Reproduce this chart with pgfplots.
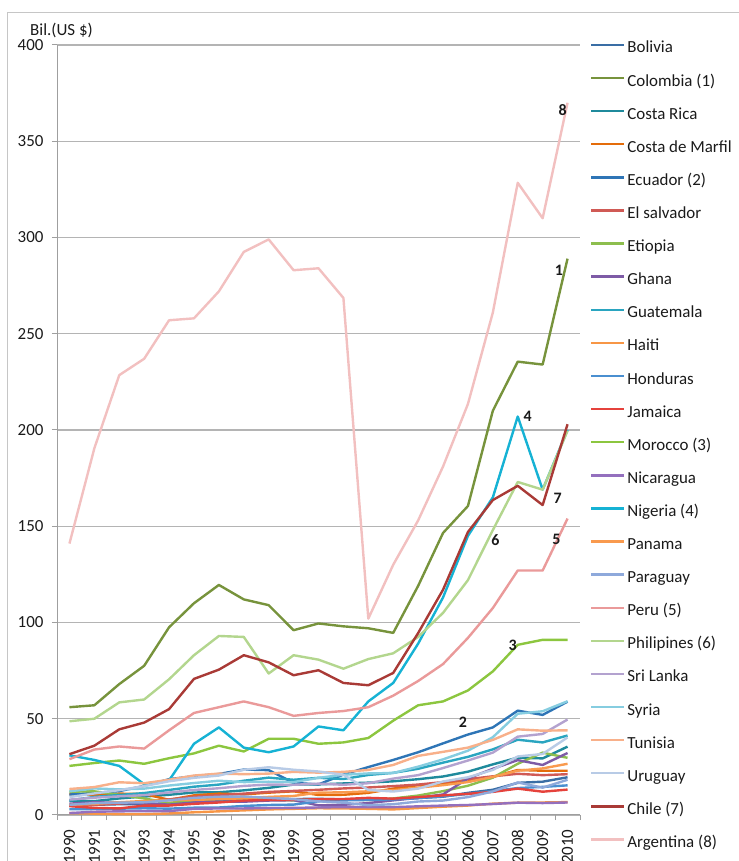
\documentclass[border=0pt]{standalone}
\usepackage{pgfplots}
\usepackage{pgfplotstable}
\pgfplotsset{compat=1.18}
\usepackage{fontspec}
\setmainfont{Carlito}

\definecolor{cBol}{HTML}{3A6EA5}
\definecolor{cCol}{HTML}{77933C}
\definecolor{cCR}{HTML}{1F8A9C}
\definecolor{cCdM}{HTML}{E46C0A}
\definecolor{cEcu}{HTML}{2E75B6}
\definecolor{cElS}{HTML}{D05A55}
\definecolor{cEti}{HTML}{8DBE4E}
\definecolor{cGha}{HTML}{7E5BA6}
\definecolor{cGua}{HTML}{2AA5C0}
\definecolor{cHai}{HTML}{F79646}
\definecolor{cHon}{HTML}{4A8FD0}
\definecolor{cJam}{HTML}{E5423C}
\definecolor{cMor}{HTML}{8CC63F}
\definecolor{cNic}{HTML}{9470BE}
\definecolor{cNig}{HTML}{16B2D4}
\definecolor{cPan}{HTML}{F99A4E}
\definecolor{cPar}{HTML}{8EA9DB}
\definecolor{cPer}{HTML}{EA9A9A}
\definecolor{cPhi}{HTML}{B3D68E}
\definecolor{cSri}{HTML}{B3A2CF}
\definecolor{cSyr}{HTML}{86CDE0}
\definecolor{cTun}{HTML}{F8B08A}
\definecolor{cUru}{HTML}{B8CBE6}
\definecolor{cChi}{HTML}{A93A36}
\definecolor{cArg}{HTML}{F2C0C0}
\definecolor{gridc}{HTML}{B4B4B4}
\definecolor{txt}{HTML}{1A1A1A}

\pgfplotstableread{
year Bol Col CR CdM Ecu ElS Eti Gha Gua Hai Hon Jam Mor Nic Nig Pan Par Per Phi Sri Syr Tun Uru Chi Arg
1990 4.9 56 7.4 10.8 10.6 4.8 12.1 5.9 7.6 1.0 3.0 4.6 25.5 1.0 31 5.3 5.3 29 48.7 8.0 12.3 13.5 9.3 31.6 141
1991 5.3 57 7.2 10.5 11.5 5.3 12.3 6.6 9.4 0.7 3.1 3.7 27 1.7 28.6 5.8 6.2 34 50 9.0 13.8 14.5 11.2 36 190.5
1992 5.6 68 8.6 11.1 12.4 5.9 10.5 6.4 10.4 0.4 3.3 3.4 28.3 1.9 25.5 6.6 6.4 35.6 58.5 9.7 13.3 17.0 12.9 44.5 228.5
1993 5.7 77.5 9.6 10.9 15.1 6.9 8.6 6.0 11.4 0.4 3.5 4.9 26.6 2.0 16 7.3 6.6 34.5 60 10.3 13.7 16.5 15.0 48 237
1994 6.0 97.5 10.5 7.9 18.6 8.1 6.3 5.4 13.0 0.8 3.3 4.9 29.5 2.0 18 7.7 7.6 44 70.5 11.7 15.3 18.3 17.5 55 257
1995 6.7 110 11.7 10.2 20.2 9.5 7.6 6.5 14.7 1.4 3.8 5.8 32 3.2 37 7.9 8.9 53 83 13.0 16.6 20.5 19.3 70.7 258
1996 7.4 119.5 11.8 11.1 21.3 10.3 8.6 6.9 15.8 1.9 3.9 6.5 36 3.4 45.5 8.2 9.5 56 93 13.9 17.8 21.5 20.5 75.5 272
1997 7.9 112 12.8 10.7 23.6 11.1 8.6 6.9 17.8 2.4 4.7 7.5 33 3.4 35 8.7 9.6 59 92.5 15.1 17.1 21.2 23.5 83 292.5
1998 8.5 109 14.1 11.6 23.3 12.0 7.9 7.5 19.4 2.9 5.2 7.8 39.6 3.6 32.6 9.4 8.9 56 73.5 15.8 17.3 21.5 24.8 79.3 299
1999 8.3 96 15.8 12.3 16.7 12.5 7.6 7.7 18.3 3.2 5.4 7.9 39.6 3.7 35.6 9.9 8.2 51.5 83 15.7 17.1 22.4 23.5 72.6 283
2000 8.4 99.5 15.9 10.4 15.9 13.1 8.2 5.0 19.3 3.5 7.1 8.2 37 3.9 46 11.6 7.1 53 80.7 16.3 19.3 22 22.6 75.2 284
2001 8.1 98 16.4 10.5 21.0 13.8 8.2 5.3 18.7 3.4 7.6 8.3 37.7 4.1 44 11.8 6.4 54 76 15.7 20.9 22.4 20.9 68.6 268.6
2002 7.9 97 16.8 11.5 24.9 14.3 7.8 6.2 20.8 3.2 7.8 8.9 40 4.0 59 12.3 5.1 56 81 16.5 21.6 23.4 13.0 67.4 102
2003 8.1 94.6 17.5 13.7 28.6 15.0 8.6 7.6 21.9 2.9 8.1 8.5 49 4.1 68.6 12.9 5.6 62 84 18.9 21.8 26 12.2 73.8 130
2004 8.8 119 18.6 15.5 32.6 15.8 10.1 8.9 24.0 3.6 8.8 9.3 57 4.5 89 14.2 7.0 69.6 92.5 20.7 25.1 30.7 13.7 94.5 153
2005 9.5 146.5 20.0 16.4 37.2 17.1 12.4 10.7 27.2 4.3 9.7 10.2 59 4.9 113 15.5 7.5 78.4 105 24.4 28.9 32.8 17.4 117 181
2006 11.5 160.5 22.5 17.4 41.8 18.6 15.2 19.0 30.2 4.9 10.9 11.0 64.7 5.2 145 17.1 9.3 92 122 28.3 33.4 35 19.6 147 213.5
2007 13.1 210 26.3 19.8 45.5 20.1 19.4 24.0 34.1 5.9 12.4 12.0 74.6 5.7 165 19.8 12.2 107.5 148 32.4 40.4 39 23.4 163.6 261
2008 16.7 235.5 29.8 23.4 54.2 21.4 26.6 28.5 39.1 6.4 14.0 13.7 88.4 6.4 207 23.0 16.9 127 173 40.7 52.6 44.5 30.4 171 328.4
2009 17.3 234 29.4 23.0 52.0 20.7 32.4 26.0 37.7 6.5 14.6 12.1 91 6.2 169 24.2 14.2 127 169 42.1 53.9 43.8 31.7 161 310
2010 19.6 289 35.5 23.0 58.9 21.2 29.7 32.2 41.3 6.7 15.4 13.2 91 6.5 200 26.6 18.3 154 199.6 49.6 59.1 44 40.3 203 370
}\gdp

\begin{document}
\begin{tikzpicture}[x=1bp,y=1bp]
\path[use as bounding box] (0,0) rectangle (739,861);
\draw[gray!45, line width=0.8bp] (7,-10) rectangle (760,849);
\begin{axis}[
  at={(57bp,46bp)}, anchor=south west,
  scale only axis, width=523bp, height=770bp,
  xmin=1989.5, xmax=2010.5, ymin=0, ymax=400,
  axis x line*=bottom, axis y line*=left,
  axis line style={draw=gray!75, line width=1bp},
  xtick={1990,1991,...,2010},
  minor xtick={1989.5,1990.5,...,2010.5},
  major x tick style={draw=none},
  ytick={0,50,...,400},
  tick align=outside,
  major tick length=5bp, minor tick length=5bp,
  tick style={draw=gray!75, line width=1bp},
  ymajorgrids, major grid style={draw=gridc, line width=1.2bp},
  /pgf/number format/1000 sep={},
  /pgf/number format/assume math mode=true,
  ticklabel style={font=\fontsize{17}{20}\selectfont, text=txt},
  xticklabel style={rotate=90, anchor=east},
  xticklabel shift=6bp,
  yticklabel shift=5bp,
  legend style={at={(1,1)}, anchor=north west, xshift=10bp, yshift=4bp,
    draw=none, fill=none, inner sep=0pt, outer sep=0pt, row sep=17.1bp,
    font=\fontsize{17}{20}\selectfont, text=txt,
    nodes={text height=12bp, text depth=4bp, inner ysep=0pt}},
  legend cell align=left,
  legend image code/.code={\draw[#1, line width=2.4bp] (0bp,4bp) -- (33bp,4bp);},
  every axis plot/.append style={line width=2.4bp, line join=round},
  clip=false,
]
\addplot[cBol] table[x=year,y=Bol]{\gdp}; \addlegendentry{Bolivia}
\addplot[cCol] table[x=year,y=Col]{\gdp}; \addlegendentry{Colombia (1)}
\addplot[cCR] table[x=year,y=CR]{\gdp}; \addlegendentry{Costa Rica}
\addplot[cCdM] table[x=year,y=CdM]{\gdp}; \addlegendentry{Costa de Marfil}
\addplot[cEcu] table[x=year,y=Ecu]{\gdp}; \addlegendentry{Ecuador (2)}
\addplot[cElS] table[x=year,y=ElS]{\gdp}; \addlegendentry{El salvador}
\addplot[cEti] table[x=year,y=Eti]{\gdp}; \addlegendentry{Etiopia}
\addplot[cGha] table[x=year,y=Gha]{\gdp}; \addlegendentry{Ghana}
\addplot[cGua] table[x=year,y=Gua]{\gdp}; \addlegendentry{Guatemala}
\addplot[cHai] table[x=year,y=Hai]{\gdp}; \addlegendentry{Haiti}
\addplot[cHon] table[x=year,y=Hon]{\gdp}; \addlegendentry{Honduras}
\addplot[cJam] table[x=year,y=Jam]{\gdp}; \addlegendentry{Jamaica}
\addplot[cMor] table[x=year,y=Mor]{\gdp}; \addlegendentry{Morocco (3)}
\addplot[cNic] table[x=year,y=Nic]{\gdp}; \addlegendentry{Nicaragua}
\addplot[cNig] table[x=year,y=Nig]{\gdp}; \addlegendentry{Nigeria (4)}
\addplot[cPan] table[x=year,y=Pan]{\gdp}; \addlegendentry{Panama}
\addplot[cPar] table[x=year,y=Par]{\gdp}; \addlegendentry{Paraguay}
\addplot[cPer] table[x=year,y=Per]{\gdp}; \addlegendentry{Peru (5)}
\addplot[cPhi] table[x=year,y=Phi]{\gdp}; \addlegendentry{Philipines (6)}
\addplot[cSri] table[x=year,y=Sri]{\gdp}; \addlegendentry{Sri Lanka}
\addplot[cSyr] table[x=year,y=Syr]{\gdp}; \addlegendentry{Syria}
\addplot[cTun] table[x=year,y=Tun]{\gdp}; \addlegendentry{Tunisia}
\addplot[cUru] table[x=year,y=Uru]{\gdp}; \addlegendentry{Uruguay}
\addplot[cChi] table[x=year,y=Chi]{\gdp}; \addlegendentry{Chile (7)}
\addplot[cArg] table[x=year,y=Arg]{\gdp}; \addlegendentry{Argentina (8)}

\begin{scope}[every node/.style={font=\fontsize{16}{18}\selectfont\bfseries, text=txt}]
\node at (axis cs:2009.8,366) {8};
\node at (axis cs:2009.65,283) {1};
\node at (axis cs:2008.4,207) {4};
\node at (axis cs:2009.6,164.5) {7};
\node at (axis cs:2007.1,143) {6};
\node at (axis cs:2009.55,143) {5};
\node at (axis cs:2007.8,88) {3};
\node at (axis cs:2005.8,48) {2};
\end{scope}
\node[anchor=base west, font=\fontsize{17}{20}\selectfont, text=txt, inner sep=0pt]
  at ([xshift=-27bp, yshift=9bp]rel axis cs:0,1) {Bil.(US \$)};
\end{axis}
\end{tikzpicture}
\end{document}
